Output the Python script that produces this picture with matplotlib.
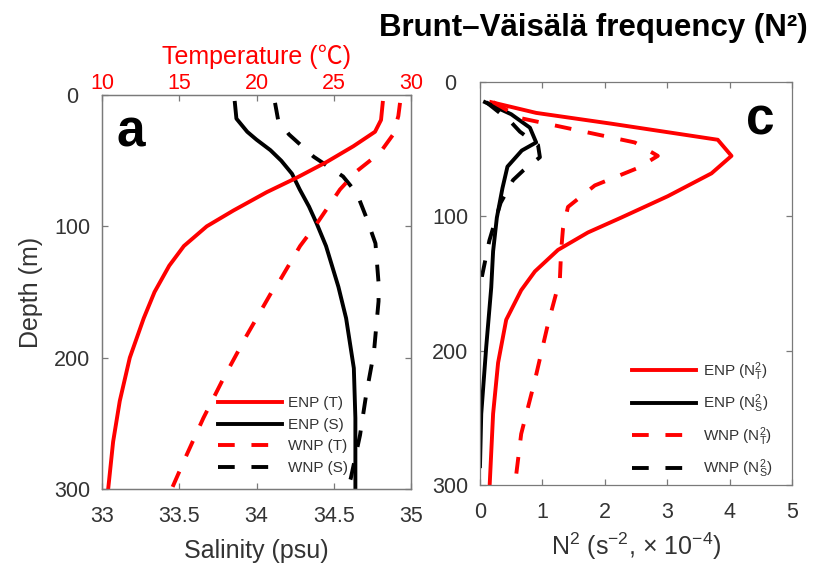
import matplotlib
matplotlib.use("Agg")
import matplotlib.pyplot as plt

plt.rcParams['font.family'] = ['Liberation Sans', 'Noto Sans CJK SC', 'DejaVu Sans']
plt.rcParams['mathtext.fontset'] = 'custom'
plt.rcParams['mathtext.rm'] = 'Liberation Sans'
plt.rcParams['mathtext.it'] = 'Liberation Sans:italic'
plt.rcParams['mathtext.bf'] = 'Liberation Sans:bold'

# ---- (a) temperature / salinity profiles ----
enp_t_depth = [6, 19, 28, 39, 51, 63, 74, 88, 100, 115, 130, 150, 170, 200, 233, 264, 300]
enp_t = [28.17, 28.06, 27.67, 26.27, 24.54, 22.6, 20.66, 18.5, 16.78, 15.3, 14.35, 13.4, 12.7, 11.8, 11.15, 10.72, 10.4]

wnp_t_depth = [6, 16, 30, 44, 58, 72, 98, 115, 141, 150, 183, 216, 246, 274, 300]
wnp_t = [29.29, 29.18, 28.85, 27.99, 26.49, 25.4, 23.9, 22.82, 21.52, 20.98, 19.37, 17.85, 16.56, 15.48, 14.51]

enp_s_depth = [6, 18, 28, 34, 42, 50, 60, 72, 85, 98, 115, 146, 170, 208, 246, 300]
enp_s = [33.86, 33.87, 33.94, 34.00, 34.09, 34.16, 34.23, 34.28, 34.34, 34.39, 34.45, 34.53, 34.58, 34.63, 34.64, 34.64]

wnp_s_depth = [6, 19, 30, 47, 62, 75, 93, 113, 143, 157, 196, 228, 259, 292, 299]
wnp_s = [34.12, 34.14, 34.21, 34.37, 34.56, 34.65, 34.71, 34.77, 34.79, 34.79, 34.76, 34.71, 34.67, 34.61, 34.59]

sal_ticks = [33, 33.5, 34, 34.5, 35]
sal_ticklabels = ['33', '33.5', '34', '34.5', '35']
temp_ticks = [10, 15, 20, 25, 30]
depth_ticks = [0, 100, 200, 300]

# ---- (c) Brunt–Väisälä frequency components (x 1e-4 s^-2) ----
enp_nt_depth = [15, 23, 31, 43, 55, 68, 85, 101, 112, 125, 141, 155, 177, 209, 247, 300]
enp_nt = [0.18, 0.90, 2.10, 3.81, 4.03, 3.71, 3.01, 2.26, 1.73, 1.25, 0.88, 0.66, 0.42, 0.29, 0.21, 0.155]

wnp_nt_depth = [15, 27, 36, 45, 55, 64, 77, 93, 109, 126, 147, 180, 222, 262, 300]
wnp_nt = [0.21, 0.66, 1.57, 2.48, 2.85, 2.53, 1.84, 1.41, 1.33, 1.30, 1.28, 1.09, 0.88, 0.66, 0.56]

enp_ns_depth = [15, 24, 34, 45, 51, 63, 79, 101, 126, 153, 197, 247, 286]
enp_ns = [0.08, 0.50, 0.80, 0.90, 0.67, 0.44, 0.36, 0.27, 0.21, 0.18, 0.10, 0.02, 0.0]

wnp_ns_depth = [15, 29, 37, 47, 56, 66, 73, 90, 118, 145, 150]
wnp_ns = [0.10, 0.48, 0.64, 0.93, 0.96, 0.69, 0.53, 0.33, 0.15, 0.03, 0.02]

n2_ticks = [0, 1, 2, 3, 4, 5]

RED = '#ff0000'
FRAME = '#7a7a7a'
LABEL = '#333333'
LW = 2.8
DASH = (0, (4.3, 4.3))
TICK_FS = 15.5
LAB_FS = 18
LEG_FS = 11

W, H = 817, 566
fig = plt.figure(figsize=(W / 100, H / 100), dpi=100)


def px_axes(left, top, right, bottom):
    return fig.add_axes([left / W, 1 - bottom / H, (right - left) / W, (bottom - top) / H])


def style_frame(ax):
    for sp in ax.spines.values():
        sp.set_color(FRAME)
        sp.set_linewidth(0.9)


# ---------------- panel a ----------------
axa = px_axes(102, 95, 411, 489)
axa.plot(enp_s, enp_s_depth, color='black', lw=LW)
axa.plot(wnp_s, wnp_s_depth, color='black', lw=LW, ls=DASH)
axa.set_xlim(33, 35)
axa.set_ylim(300, 0)
axa.set_xticks(sal_ticks)
axa.set_xticklabels(sal_ticklabels)
axa.set_yticks(depth_ticks)
axa.tick_params(axis='x', direction='in', length=4, width=0.9, color=FRAME,
                labelcolor=LABEL, labelsize=TICK_FS, pad=12, top=False)
axa.tick_params(axis='y', direction='in', length=4, width=0.9, color=FRAME,
                labelcolor=LABEL, labelsize=TICK_FS, pad=21.5, right=True)
for lbl in axa.get_yticklabels():
    lbl.set_horizontalalignment('center')
axa.set_xlabel('Salinity (psu)', fontsize=LAB_FS, color=LABEL, labelpad=9)
axa.set_ylabel('Depth (m)', fontsize=LAB_FS, color=LABEL, labelpad=8)
style_frame(axa)

axt = axa.twiny()
axt.plot(enp_t, enp_t_depth, color=RED, lw=LW)
axt.plot(wnp_t, wnp_t_depth, color=RED, lw=LW, ls=DASH)
axt.set_xlim(10, 30)
axt.set_ylim(300, 0)
axt.set_xticks(temp_ticks)
axt.tick_params(axis='x', direction='in', length=4, width=0.9, color=FRAME,
                labelcolor=RED, labelsize=TICK_FS, pad=1)
axt.set_xlabel('Temperature (℃)', fontsize=LAB_FS, color=RED, labelpad=6)
style_frame(axt)

fig.text(131 / W, 1 - 133 / H, 'a', fontsize=37,
         fontweight='bold', ha='center', va='center')

handles_a = [axt.lines[0], axa.lines[0], axt.lines[1], axa.lines[1]]
labels_a = ['ENP (T)', 'ENP (S)', 'WNP (T)', 'WNP (S)']
fig.legend(handles_a, labels_a, loc='upper left',
           bbox_to_anchor=(218 / W, 1 - 396.5 / H), frameon=False,
           fontsize=LEG_FS, handlelength=4.2, handletextpad=0.4,
           labelspacing=0.49, borderpad=0, borderaxespad=0,
           labelcolor=LABEL)

# ---------------- panel c ----------------
axc = px_axes(480, 82, 792, 485)
l1, = axc.plot(enp_nt, enp_nt_depth, color=RED, lw=LW)
l2, = axc.plot(enp_ns, enp_ns_depth, color='black', lw=LW)
l3, = axc.plot(wnp_nt, wnp_nt_depth, color=RED, lw=LW, ls=DASH)
l4, = axc.plot(wnp_ns, wnp_ns_depth, color='black', lw=LW, ls=DASH)
axc.set_xlim(0, 5)
axc.set_ylim(300, 0)
axc.set_xticks(n2_ticks)
axc.set_yticks(depth_ticks)
axc.tick_params(axis='x', direction='in', length=4, width=0.9, color=FRAME,
                labelcolor=LABEL, labelsize=TICK_FS, pad=12, top=True)
axc.tick_params(axis='y', direction='in', length=4, width=0.9, color=FRAME,
                labelcolor=LABEL, labelsize=TICK_FS, pad=21.5, right=True)
for lbl in axc.get_yticklabels():
    lbl.set_horizontalalignment('center')
axc.set_xlabel(r'N$^{2}$ (s$^{-2}$, × 10$^{-4}$)', fontsize=LAB_FS, color=LABEL, labelpad=6)
style_frame(axc)

fig.text(760 / W, 1 - 121 / H, 'c', fontsize=37,
         fontweight='bold', ha='center', va='center')

labels_c = [r'ENP ($\mathrm{N}_\mathrm{T}^2$)', r'ENP ($\mathrm{N}_\mathrm{S}^2$)',
            r'WNP ($\mathrm{N}_\mathrm{T}^2$)', r'WNP ($\mathrm{N}_\mathrm{S}^2$)']
fig.legend([l1, l2, l3, l4], labels_c, loc='upper left',
           bbox_to_anchor=(632 / W, 1 - 360 / H), frameon=False,
           fontsize=LEG_FS, handlelength=4.2, handletextpad=0.45,
           labelspacing=0.65, borderpad=0, borderaxespad=0,
           labelcolor=LABEL)

fig.text(808 / W, 1 - 28 / H, 'Brunt–Väisälä frequency (N²)', ha='right', va='center',
         fontsize=22.5, fontweight='bold')

fig.savefig('out.png', dpi=100)
